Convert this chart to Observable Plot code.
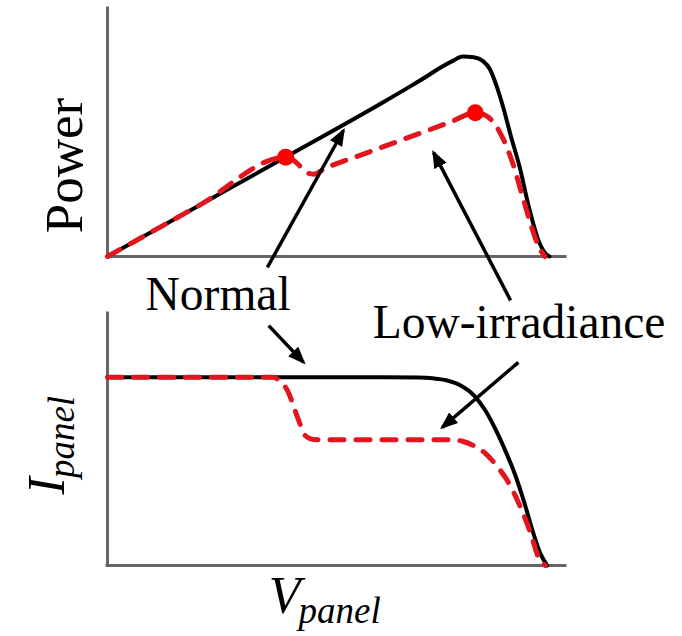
<!DOCTYPE html>
<html><head><meta charset="utf-8">
<script src="https://cdn.jsdelivr.net/npm/d3@7"></script>
<script src="https://cdn.jsdelivr.net/npm/@observablehq/plot@0.6"></script>
<style>
body{margin:0;background:#fff;}
#chart{width:682px;height:636px;background:#fff;}
#chart svg{overflow:visible;display:block;}
#chart svg text{font-family:"Liberation Serif","Times New Roman",serif;}
</style></head><body><div id="chart"></div>
<script>
// ---- Data (V in arbitrary units 0..100, P and I normalised 0..100) ----
const normalPowerV = [0, 20, 40, 60, 66, 70, 73, 75.5, 77.5, 80, 82, 83.5, 85, 86.5, 88, 90, 92, 94, 95.5, 96.5];
const normalPower  = [0, 20.6, 41.2, 62, 68.5, 73, 76.5, 79, 80.6, 80.3, 78.8, 75.5, 68.5, 59.5, 49, 36, 20, 7, 1.5, 0];

const lowPowerV = [0, 20, 38.9, 40.5, 42, 43.5, 45, 47.5, 55, 65, 75, 80.3, 82.5, 84.5, 86.5, 88.5, 90.5, 92.5, 94, 95.5];
const lowPower  = [0, 20.6, 40, 39, 36.5, 33.8, 33.2, 35.5, 40.7, 47.5, 54.3, 58, 57, 53.5, 47, 37.5, 25, 12.5, 4.5, 0];

const peakV = [38.9, 80.3];
const peakP = [40, 58];

const normalCurrentV = [0, 20, 40, 60, 68, 71, 74, 77, 80, 82.5, 85, 87, 89, 91, 93, 94.5, 96];
const normalCurrent  = [74.7, 74.7, 74.7, 74.7, 74.6, 74.3, 73.5, 71.5, 67.5, 61.5, 53, 45, 36, 25, 12.7, 4.8, 0];

const lowCurrentV = [0, 20, 36, 37.5, 39.3, 41.5, 43.2, 45, 47, 60, 75, 77.5, 80, 82.5, 85, 87.3, 90.2, 92.4, 94.1, 95.6];
const lowCurrent  = [74.7, 74.7, 74.7, 73.5, 69.4, 58.8, 51.5, 50, 49.9, 49.9, 49.9, 49.3, 47.5, 44.5, 39.5, 33.7, 23, 12.7, 3.2, 0];

// annotation arrows (tail -> head)
const topArrowV1 = [34.9, 88.0];
const topArrowP1 = [-4.4, -17.7];
const topArrowV2 = [51.5, 71.2];
const topArrowP2 = [50.8, 41.9];

const botArrowV1 = [35.2, 89.7];
const botArrowI1 = [95.2, 80.6];
const botArrowV2 = [42.8, 73.1];
const botArrowI2 = [80.6, 54.8];

const seriesLabels = ["Normal", "Low-irradiance"];
const seriesLabelV = [8.3, 57.9];
const seriesLabelI = [101.2, 90.1];

// ---- helpers ----
const serif = "Liberation Serif, Times New Roman, serif";
const zipXY = (xs, ys, kx, ky) => xs.map((v, i) => ({[kx]: v, [ky]: ys[i]}));
const zipArrows = (x1, y1, x2, y2) => x1.map((v, i) => ({x1: v, y1: y1[i], x2: x2[i], y2: y2[i]}));

const normalP = zipXY(normalPowerV, normalPower, "V", "P");
const lowP = zipXY(lowPowerV, lowPower, "V", "P");
const peaks = zipXY(peakV, peakP, "V", "P");
const normalI = zipXY(normalCurrentV, normalCurrent, "V", "I");
const lowI = zipXY(lowCurrentV, lowCurrent, "V", "I");
const topArrows = zipArrows(topArrowV1, topArrowP1, topArrowV2, topArrowP2);
const botArrows = zipArrows(botArrowV1, botArrowI1, botArrowV2, botArrowI2);
const labels = seriesLabels.map((t, i) => ({t, V: seriesLabelV[i], I: seriesLabelI[i]}));

const RED = "#e3151f";
const axisStyle = {stroke: "#666", strokeWidth: 3, strokeLinecap: "square"};
const common = {
  width: 682,
  marginLeft: 107,
  marginRight: 117,
  x: {domain: [0, 100], axis: null},
  style: {background: "transparent", overflow: "visible", fontFamily: serif}
};

function addHeads(svg, id) {
  const s = d3.select(svg);
  const defs = s.insert("defs", ":first-child");
  defs.append("marker")
    .attr("id", id)
    .attr("viewBox", "0 0 18 14")
    .attr("markerWidth", 18)
    .attr("markerHeight", 14)
    .attr("markerUnits", "userSpaceOnUse")
    .attr("refX", 15)
    .attr("refY", 7)
    .attr("orient", "auto")
    .append("path")
    .attr("d", "M0,0L18,7L0,14Z")
    .attr("fill", "#000");
  s.selectAll('g[aria-label="link"] path, g[aria-label="link"] line').attr("marker-end", `url(#${id})`);
}

// add a subscript to a text drawn by Plot
function addSubscript(svg, main, sub, size, dx, dy) {
  d3.select(svg).selectAll("text").filter(function () { return this.textContent === main; })
    .append("tspan").attr("font-size", size).attr("dx", dx).attr("dy", dy).text(sub);
}

// ---- Top panel: Power vs V ----
const powerPlot = Plot.plot({
  ...common,
  height: 290,
  marginTop: 8,
  marginBottom: 34,
  y: {domain: [0, 100], axis: null},
  marks: [
    Plot.ruleX([0], axisStyle),
    Plot.ruleY([0], axisStyle),
    Plot.line(normalP, {x: "V", y: "P", stroke: "#000", strokeWidth: 4, curve: "monotone-x"}),
    Plot.line(lowP, {x: "V", y: "P", stroke: RED, strokeWidth: 5, strokeDasharray: "14,12", strokeLinecap: "round", curve: "monotone-x"}),
    Plot.dot(peaks, {x: "V", y: "P", r: 8.5, fill: "#ff0000", stroke: "none"}),
    Plot.link(topArrows, {x1: "x1", y1: "y1", x2: "x2", y2: "y2", stroke: "#000", strokeWidth: 3.5}),
    Plot.text([{t: "Power", V: -5.5, P: 36.7}], {x: "V", y: "P", text: "t", rotate: -90, textAnchor: "middle", lineAnchor: "bottom", fontSize: 53, fontFamily: serif, fill: "#000"})
  ]
});
addHeads(powerPlot, "headTop");

// ---- Bottom panel: I vs V ----
const currentPlot = Plot.plot({
  ...common,
  height: 346,
  marginTop: 23,
  marginBottom: 71,
  y: {domain: [0, 100], axis: null},
  marks: [
    Plot.ruleX([0], axisStyle),
    Plot.ruleY([0], axisStyle),
    Plot.line(normalI, {x: "V", y: "I", stroke: "#000", strokeWidth: 4, curve: "monotone-x"}),
    Plot.line(lowI, {x: "V", y: "I", stroke: RED, strokeWidth: 5, strokeDasharray: "14,12", strokeLinecap: "round", curve: "monotone-x"}),
    Plot.link(botArrows, {x1: "x1", y1: "y1", x2: "x2", y2: "y2", stroke: "#000", strokeWidth: 3.5}),
    Plot.text(labels, {x: "V", y: "I", text: "t", textAnchor: "start", lineAnchor: "bottom", fontSize: 47.5, fontFamily: serif, fill: "#000"}),
    // y label I_panel (rotated)
    Plot.text([{t: "I", V: -9.6, I: 28.2}], {x: "V", y: "I", text: "t", rotate: -90, textAnchor: "start", lineAnchor: "bottom", fontSize: 52, fontStyle: "italic", fontFamily: serif, fill: "#000"}),
    // x label V_panel
    Plot.text([{t: "V", V: 35.2, I: -19}], {x: "V", y: "I", text: "t", textAnchor: "start", lineAnchor: "bottom", fontSize: 52, fontStyle: "italic", fontFamily: serif, fill: "#000"})
  ]
});
addHeads(currentPlot, "headBottom");
addSubscript(currentPlot, "I", "panel", 37, -1, 10);
addSubscript(currentPlot, "V", "panel", 37, -2, 10);

const chart = document.getElementById("chart");
chart.appendChild(powerPlot);
chart.appendChild(currentPlot);
</script></body></html>
